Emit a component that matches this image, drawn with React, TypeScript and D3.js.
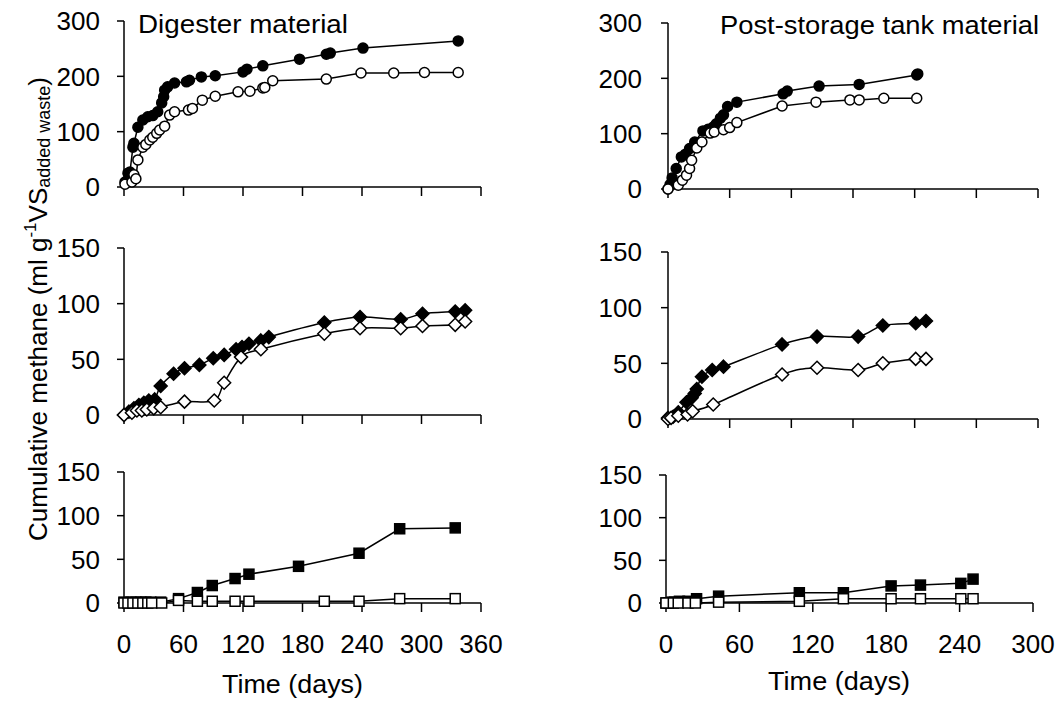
import React from "react";
import * as d3 from "d3";

// ---- Data (days, cumulative methane ml/g VS) ----
const digesterFilled: [number, number][] = [
  [1, 9], [4, 25], [6, 27], [9, 72], [10, 79], [14, 108], [19, 121], [24, 127], [29, 129], [34, 136],
  [38, 152], [40, 163], [41, 175], [44, 181], [51, 188], [63, 190], [66, 193], [78, 199], [92, 201],
  [120, 208], [124, 213], [140, 219], [177, 231], [204, 240], [208, 242], [241, 251], [337, 264],
];
const digesterOpen: [number, number][] = [
  [1, 5], [8, 9], [10, 22], [12, 15], [14, 49], [19, 72], [22, 77], [26, 85], [29, 90], [33, 97],
  [36, 103], [41, 110], [46, 130], [51, 136], [65, 139], [69, 142], [79, 157], [92, 164], [115, 172],
  [127, 173], [140, 179], [142, 180], [150, 192], [204, 195], [239, 206], [272, 206], [303, 207], [337, 207],
];
const postFilled: [number, number][] = [
  [0, 0], [2, 8], [4, 20], [8, 37], [13, 58], [17, 63], [21, 73], [26, 85], [34, 105], [39, 108],
  [44, 112], [47, 118], [51, 128], [54, 134], [58, 149], [67, 157], [112, 172], [116, 177], [147, 186],
  [186, 189], [242, 206], [243, 208],
];
const postOpen: [number, number][] = [
  [0, 0], [10, 7], [14, 16], [18, 25], [21, 37], [23, 52], [28, 74], [33, 85], [41, 101], [45, 103],
  [54, 107], [60, 111], [67, 120], [111, 150], [144, 157], [177, 161], [186, 161], [210, 164], [242, 164],
];
const digesterDiamondFilled: [number, number][] = [
  [0, 0], [5, 3], [10, 6], [15, 9], [20, 11], [25, 13], [31, 14], [37, 26], [50, 37], [61, 42], [76, 45],
  [90, 51], [101, 54], [113, 59], [119, 61], [126, 64], [138, 67], [146, 70], [202, 83], [238, 88],
  [279, 86], [301, 91], [334, 93], [344, 94],
];
const digesterDiamondOpen: [number, number][] = [
  [0, 0], [8, 2], [13, 4], [18, 4], [23, 5], [30, 6], [37, 7], [61, 12], [91, 13], [101, 29], [118, 52],
  [138, 59], [202, 73], [238, 78], [279, 78], [301, 80], [334, 81], [344, 84],
];
const postDiamondFilled: [number, number][] = [
  [0, 1], [5, 2], [10, 6], [18, 15], [23, 19], [26, 23], [28, 27], [33, 38], [43, 44], [54, 47],
  [111, 67], [145, 74], [185, 74], [209, 84], [241, 86], [251, 88],
];
const postDiamondOpen: [number, number][] = [
  [0, 0], [3, 1], [10, 3], [19, 4], [24, 7], [44, 13], [111, 40], [145, 46], [185, 44], [209, 50],
  [241, 54], [251, 54],
];
const digesterSquareFilled: [number, number][] = [
  [0, 1], [7, 1], [12, 1], [17, 1], [22, 1], [27, 1], [37, 1], [55, 5], [74, 12], [89, 20], [112, 28],
  [126, 33], [176, 42], [237, 57], [278, 85], [334, 86],
];
const digesterSquareOpen: [number, number][] = [
  [0, 0], [4, 0], [9, 0], [14, 0], [19, 0], [24, 0], [28, 0], [38, 0], [55, 3], [74, 2], [89, 2],
  [112, 2], [126, 2], [202, 2], [237, 2], [278, 5], [334, 5],
];
const postSquareFilled: [number, number][] = [
  [0, 0], [2, 0], [5, 1], [7, 1], [11, 2], [18, 2], [25, 5], [43, 8], [109, 12], [145, 12], [184, 20],
  [208, 21], [241, 23], [251, 28],
];
const postSquareOpen: [number, number][] = [
  [0, 0], [6, 0], [10, 0], [18, 0], [24, 0], [43, 1], [109, 2], [145, 5], [184, 5], [208, 5], [241, 5],
  [251, 5],
];

const xTicks360 = [0, 60, 120, 180, 240, 300, 360];
const xTicks300 = [0, 60, 120, 180, 240, 300];
const yTicks300 = [0, 100, 200, 300];
const yTicks150 = [0, 50, 100, 150];

type Marker = "circle" | "diamond" | "square";
interface Series { data: [number, number][]; marker: Marker; filled: boolean; }
interface Panel {
  xr: [number, number]; xd: [number, number]; xt: number[]; xLabels: boolean;
  yr: [number, number]; yd: [number, number]; yt: number[];
  smooth: boolean; series: Series[];
}

const panels: Panel[] = [
  { xr: [124, 481], xd: [0, 360], xt: xTicks360, xLabels: false, yr: [187, 21], yd: [0, 300], yt: yTicks300, smooth: false,
    series: [{ data: digesterFilled, marker: "circle", filled: true }, { data: digesterOpen, marker: "circle", filled: false }] },
  { xr: [124, 481], xd: [0, 360], xt: xTicks360, xLabels: false, yr: [415, 248], yd: [0, 150], yt: yTicks150, smooth: true,
    series: [{ data: digesterDiamondFilled, marker: "diamond", filled: true }, { data: digesterDiamondOpen, marker: "diamond", filled: false }] },
  { xr: [124, 481], xd: [0, 360], xt: xTicks360, xLabels: true, yr: [603, 472], yd: [0, 150], yt: yTicks150, smooth: false,
    series: [{ data: digesterSquareFilled, marker: "square", filled: true }, { data: digesterSquareOpen, marker: "square", filled: false }] },
  { xr: [668, 1038], xd: [0, 360], xt: xTicks360, xLabels: false, yr: [189, 23], yd: [0, 300], yt: yTicks300, smooth: false,
    series: [{ data: postFilled, marker: "circle", filled: true }, { data: postOpen, marker: "circle", filled: false }] },
  { xr: [668, 1038], xd: [0, 360], xt: xTicks360, xLabels: false, yr: [419, 252], yd: [0, 150], yt: yTicks150, smooth: true,
    series: [{ data: postDiamondFilled, marker: "diamond", filled: true }, { data: postDiamondOpen, marker: "diamond", filled: false }] },
  { xr: [666, 1033], xd: [0, 300], xt: xTicks300, xLabels: true, yr: [603, 475], yd: [0, 150], yt: yTicks150, smooth: false,
    series: [{ data: postSquareFilled, marker: "square", filled: true }, { data: postSquareOpen, marker: "square", filled: false }] },
];

const FONT = "'Liberation Sans', Arial, sans-serif";

function markerEl(m: Marker, filled: boolean, x: number, y: number, key: number) {
  const fill = filled ? "#000" : "#fff";
  const common = { fill, stroke: "#000", strokeWidth: 1.5 };
  if (m === "circle") return <circle key={key} cx={x} cy={y} r={5} {...common} />;
  if (m === "square") return <rect key={key} x={x - 5} y={y - 5} width={10} height={10} {...common} />;
  const s = 6.5;
  return <path key={key} d={`M${x},${y - s}L${x + s},${y}L${x},${y + s}L${x - s},${y}Z`} {...common} />;
}

function PanelView({ p }: { p: Panel }) {
  const x = d3.scaleLinear().domain(p.xd).range(p.xr);
  const y = d3.scaleLinear().domain(p.yd).range(p.yr);
  const line = d3.line<[number, number]>().x(d => x(d[0])).y(d => y(d[1]))
    .curve(p.smooth ? d3.curveCardinal.tension(0) : d3.curveLinear);
  const x0 = p.xr[0];
  const y0 = p.yr[0];
  const labelRight = x0 < 300 ? 100 : 642;
  return (
    <g>
      <line x1={x0} x2={x0} y1={p.yr[1]} y2={y0} stroke="#000" strokeWidth={1.5} />
      <line x1={x0} x2={p.xr[1]} y1={y0} y2={y0} stroke="#000" strokeWidth={1.5} />
      {p.yt.map(t => (
        <g key={"y" + t}>
          <line x1={x0 - 7} x2={x0} y1={y(t)} y2={y(t)} stroke="#000" strokeWidth={1.5} />
          <text x={labelRight} y={y(t)} dy="0.36em" textAnchor="end" fontSize={26} fontFamily={FONT}>{t}</text>
        </g>
      ))}
      {p.xt.map(t => (
        <g key={"x" + t}>
          <line x1={x(t)} x2={x(t)} y1={y0} y2={y0 + 9} stroke="#000" strokeWidth={1.5} />
          {p.xLabels && (
            <text x={x(t)} y={653} textAnchor="middle" fontSize={26} fontFamily={FONT}>{t}</text>
          )}
        </g>
      ))}
      {p.series.map((s, i) => (
        <path key={"l" + i} d={line(s.data) || ""} fill="none" stroke="#000" strokeWidth={1.5} />
      ))}
      {p.series.map((s, i) => (
        <g key={"m" + i}>{s.data.map((d, j) => markerEl(s.marker, s.filled, x(d[0]), y(d[1]), j))}</g>
      ))}
    </g>
  );
}

export default function App() {
  return (
    <svg width={1060} height={704} style={{ position: "absolute", left: 0, top: 0, background: "#fff" }}>
      <rect width={1060} height={704} fill="#fff" />
      {panels.map((p, i) => <PanelView key={i} p={p} />)}
      <text x={138} y={33} fontSize={26} fontFamily={FONT} textLength={210} lengthAdjust="spacingAndGlyphs">Digester material</text>
      <text x={720} y={34} fontSize={26} fontFamily={FONT} textLength={319} lengthAdjust="spacingAndGlyphs">Post-storage tank material</text>
      <text x={222} y={693} fontSize={26} fontFamily={FONT} textLength={141} lengthAdjust="spacingAndGlyphs">Time (days)</text>
      <text x={768} y={690} fontSize={26} fontFamily={FONT} textLength={142} lengthAdjust="spacingAndGlyphs">Time (days)</text>
      <text transform="translate(47,309) rotate(-90)" textAnchor="middle" fontSize={26} fontFamily={FONT}>
        Cumulative methane (ml g
        <tspan fontSize={17} dy={-11}>-1</tspan>
        <tspan dy={11}>VS</tspan>
        <tspan fontSize={18} dy={3}>added waste</tspan>
        <tspan dy={-3}>)</tspan>
      </text>
    </svg>
  );
}
